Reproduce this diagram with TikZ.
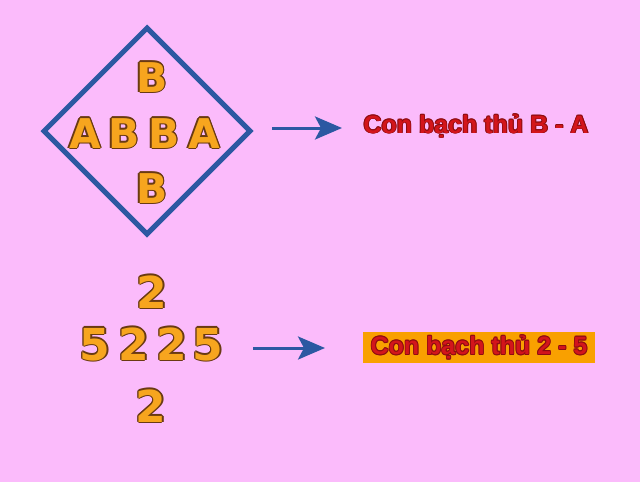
\documentclass[tikz,border=0pt]{standalone}
\usepackage{fontspec}
\usepackage{xcolor}
\usetikzlibrary{arrows.meta,shapes.geometric}
\newfontfamily\letterfont{DejaVu Sans}
\newfontfamily\labelfont{Liberation Sans}
\definecolor{bgpink}{HTML}{FBBBFB}
\definecolor{linkblue}{HTML}{2C58A2}
\definecolor{letterorange}{HTML}{F7A51E}
\definecolor{edgebrown}{HTML}{6A3A12}
\definecolor{labelred}{HTML}{D3151B}
\definecolor{edgered}{HTML}{8E0C10}
\definecolor{boxorange}{HTML}{F9A000}
\newlength{\edgewd}
\newcommand{\shifted}[3]{\rlap{\hspace*{#1}\raisebox{#2}{#3}}}
\newcommand{\edged}[4]{{\setlength{\edgewd}{#1}%
  {\color{#2}%
   \shifted{\edgewd}{0pt}{#4}\shifted{-\edgewd}{0pt}{#4}%
   \shifted{0pt}{\edgewd}{#4}\shifted{0pt}{-\edgewd}{#4}%
   \shifted{.7\edgewd}{.7\edgewd}{#4}\shifted{-.7\edgewd}{.7\edgewd}{#4}%
   \shifted{.7\edgewd}{-.7\edgewd}{#4}\shifted{-.7\edgewd}{-.7\edgewd}{#4}}%
  {\color{#3}#4}}}
\newcommand{\lett}[1]{\edged{1.4pt}{edgebrown}{letterorange}{#1}}
\newcommand{\redtext}[1]{\edged{0.9pt}{edgered}{labelred}{#1}}

\begin{document}
\begin{tikzpicture}[x=1pt, y=-1pt, >=Stealth]
        \tikzset{
           letter/.style={
                        font=\letterfont\bfseries\fontsize{41pt}{41pt}\selectfont,
                        inner sep=0pt,
                        anchor=base
                       },
           digit/.style={
                        letter,
                        font=\letterfont\bfseries\fontsize{44pt}{44pt}\selectfont
                       },
           label/.style={
                        font=\labelfont\bfseries\fontsize{25pt}{25pt}\selectfont,
                        inner sep=0pt
                       },
           link/.style={
                        ->,
                        draw=linkblue,
                        line width=3pt,
                        -{Stealth[length=27pt,width=23pt,inset=6pt]}
                       },
                 };
        \useasboundingbox[fill=bgpink] (0,0) rectangle (640,482);
    %--------------------
        \node[diamond, draw=linkblue, line width=5pt, inner sep=0pt,
              minimum size=208pt] (frame) at (147,131) {};

        \node[letter] (topB)   at (152,92)  {\lett{B}};
        \node[letter] (rowA1)  at (85,148)  {\lett{A}};
        \node[letter] (rowB1)  at (124,148) {\lett{B}};
        \node[letter] (rowB2)  at (164,148) {\lett{B}};
        \node[letter] (rowA2)  at (204,148) {\lett{A}};
        \node[letter] (bottomB) at (152,203) {\lett{B}};

        \node[label, anchor=base] (pairBA) at (476,133) {\redtext{Con bạch thủ B - A}};
    %--------------------
        \node[digit] (topTwo)    at (152,308) {\lett{2}};
        \node[digit] (rowFive1)  at (95,360)  {\lett{5}};
        \node[digit] (rowTwo1)   at (134,360) {\lett{2}};
        \node[digit] (rowTwo2)   at (172,360) {\lett{2}};
        \node[digit] (rowFive2)  at (208,360) {\lett{5}};
        \node[digit] (bottomTwo) at (151,422) {\lett{2}};

        \node[label, fill=boxorange, minimum width=232pt, minimum height=31pt]
              (pairTF) at (479,347.5) {\redtext{Con bạch thủ 2 - 5}};
    %--------------------
        \coordinate (tailBA) at (272,128);
        \coordinate (headBA) at (342,128);
        \coordinate (tailTF) at (253,348);
        \coordinate (headTF) at (325,348);
        \path (tailBA) edge[link] (headBA)
              (tailTF) edge[link] (headTF)
        ;
    \end{tikzpicture}
\end{document}
